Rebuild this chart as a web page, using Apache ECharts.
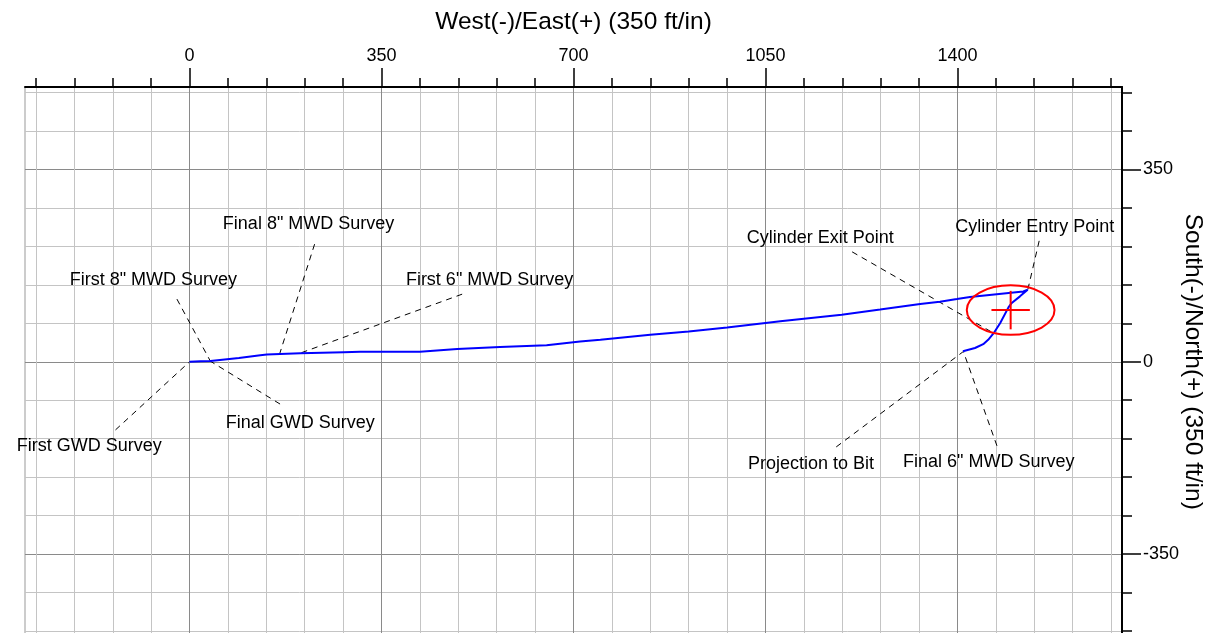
<!DOCTYPE html>
<html><head><meta charset="utf-8">
<script src="https://cdn.jsdelivr.net/npm/echarts@6/dist/echarts.min.js"></script>
<style>html,body{margin:0;padding:0;background:#fff}#c{width:1222px;height:633px}</style>
</head><body><div id="c"></div>
<script>
// Well path (East, North), ft
const pathEast = [0, 20, 38, 90, 129, 141, 165, 202, 281, 311, 366, 420, 488, 566, 651, 712, 749, 840, 910, 980, 1050, 1077, 1189, 1259, 1332, 1368, 1399, 1423, 1520, 1528, 1514, 1499, 1493, 1478, 1466, 1456, 1447, 1432, 1410];
const pathNorth = [0, 0.8, 1.5, 7, 12, 13, 14, 15.5, 17.5, 18, 18, 18, 23, 27, 30, 37, 40, 49, 55, 62.5, 70.5, 73.5, 85.7, 95, 105, 109, 114, 118, 128, 131, 119, 107, 99, 70.5, 52, 40, 32, 25, 19];

// Axis ticks
const xMinorTicks = [-280, -210, -140, -70, 0, 70, 140, 210, 280, 350, 420, 490, 560, 630, 700, 770, 840, 910, 980, 1050, 1120, 1190, 1260, 1330, 1400, 1470, 1540, 1610, 1680];
const xMajorTicks = [0, 350, 700, 1050, 1400];
const yMinorTicks = [-490, -420, -350, -280, -210, -140, -70, 0, 70, 140, 210, 280, 350, 420, 490];
const yMajorTicks = [-350, 0, 350];

// Annotations: label, label position, leader start, leader end (data units)
const annLabels = ['First GWD Survey', 'First 8" MWD Survey', 'Final GWD Survey', 'Final 8" MWD Survey', 'First 6" MWD Survey', 'Cylinder Exit Point', 'Cylinder Entry Point', 'Projection to Bit', 'Final 6" MWD Survey'];
const annTextPos = [[-183, -153], [-66, 149], [202, -112], [217, 251], [547, 149], [1150, 225], [1541, 246], [1133, -186], [1457, -182]];
const annLeadFrom = [[-135, -124], [-23, 114], [165, -77], [228, 214], [497, 123], [1208, 200], [1549, 220], [1179, -155], [1472, -153]];
const annLeadTo = [[0, 0], [38, 1], [38, 1], [164, 13.5], [200, 15], [1466, 52], [1528, 130], [1410, 18], [1411, 18]];

// Target cylinder: center, radii; cross half-size
const target = [[1497, 94, 80, 45]];
const crossHalf = 35;

const FONT = 'Liberation Sans, Arial, sans-serif';
const chart = echarts.init(document.getElementById('c'), null, {renderer: 'canvas'});

const pathData = pathEast.map((e, i) => [e, pathNorth[i]]);
const leadData = annLeadFrom.map((p, i) => [p[0], p[1], annLeadTo[i][0], annLeadTo[i][1]]);
const plain = v => String(v);

chart.setOption({
  animation: false,
  backgroundColor: '#fff',
  grid: {left: 25, top: 87, width: 1097, height: 549.5, outerBoundsMode: 'none', containLabel: false,
         show: true, borderColor: '#999', borderWidth: 1, backgroundColor: 'transparent'},
  xAxis: [
    {type: 'value', position: 'top', min: -300, max: 1700, offset: 0,
     axisLine: {show: true, onZero: false, lineStyle: {color: '#000', width: 2}},
     axisTick: {show: true, customValues: xMinorTicks, length: 9, lineStyle: {color: '#000', width: 1.5}},
     axisLabel: {show: false},
     splitLine: {show: true, lineStyle: {color: '#c4c4c4', width: 1}}},
    {type: 'value', position: 'top', min: -300, max: 1700, offset: 0,
     name: 'West(-)/East(+) (350 ft/in)', nameLocation: 'middle', nameGap: 52,
     nameTextStyle: {fontSize: 24.5, fontFamily: FONT, color: '#000'},
     axisLine: {show: false, onZero: false},
     axisTick: {show: true, customValues: xMajorTicks, length: 19, lineStyle: {color: '#000', width: 1.5}},
     axisLabel: {show: true, customValues: xMajorTicks, formatter: plain, margin: 22, fontSize: 18, fontFamily: FONT, color: '#000'},
     splitLine: {show: true, lineStyle: {color: '#8a8a8a', width: 1}}}
  ],
  yAxis: [
    {type: 'value', position: 'right', min: -500, max: 500, offset: 0,
     axisLine: {show: true, onZero: false, lineStyle: {color: '#000', width: 2}},
     axisTick: {show: true, customValues: yMinorTicks, length: 10, lineStyle: {color: '#000', width: 1.5}},
     axisLabel: {show: false},
     splitLine: {show: true, lineStyle: {color: '#c4c4c4', width: 1}}},
    {type: 'value', position: 'right', min: -500, max: 500, offset: 0,
     name: 'South(-)/North(+) (350 ft/in)', nameLocation: 'middle', nameGap: 58, nameRotate: -90, nameMoveOverlap: false,
     nameTextStyle: {fontSize: 24.5, fontFamily: FONT, color: '#000'},
     axisLine: {show: false, onZero: false},
     axisTick: {show: true, customValues: yMajorTicks, length: 19, lineStyle: {color: '#000', width: 1.5}},
     axisLabel: {show: true, customValues: yMajorTicks, formatter: plain, margin: 21, fontSize: 18, fontFamily: FONT, color: '#000'},
     splitLine: {show: true, lineStyle: {color: '#8a8a8a', width: 1}}}
  ],
  series: [
    {type: 'custom', name: 'leaders', xAxisIndex: 0, yAxisIndex: 0, z: 2, clip: false,
     data: leadData,
     renderItem: function (params, api) {
       const a = api.coord([api.value(0), api.value(1)]);
       const b = api.coord([api.value(2), api.value(3)]);
       return {type: 'line', shape: {x1: a[0], y1: a[1], x2: b[0], y2: b[1]},
               style: {stroke: '#000', lineWidth: 1, lineDash: [6, 5], fill: null}};
     }},
    {type: 'line', name: 'path', xAxisIndex: 0, yAxisIndex: 0, z: 3, data: pathData,
     showSymbol: false, symbol: 'none', lineStyle: {color: '#0000ff', width: 2}, itemStyle: {color: '#0000ff'}},
    {type: 'custom', name: 'target', xAxisIndex: 0, yAxisIndex: 0, z: 4,
     data: target,
     renderItem: function (params, api) {
       const c = api.coord([api.value(0), api.value(1)]);
       const s = api.size([api.value(2), api.value(3)]);
       const h = api.size([crossHalf, crossHalf]);
       return {type: 'group', children: [
         {type: 'ellipse', shape: {cx: c[0], cy: c[1], rx: s[0], ry: s[1]}, style: {fill: null, stroke: '#ff0000', lineWidth: 2}},
         {type: 'line', shape: {x1: c[0] - h[0], y1: c[1], x2: c[0] + h[0], y2: c[1]}, style: {stroke: '#ff0000', lineWidth: 2}},
         {type: 'line', shape: {x1: c[0], y1: c[1] - h[1], x2: c[0], y2: c[1] + h[1]}, style: {stroke: '#ff0000', lineWidth: 2}}
       ]};
     }},
    {type: 'custom', name: 'labels', xAxisIndex: 0, yAxisIndex: 0, z: 5, clip: false,
     data: annTextPos,
     renderItem: function (params, api) {
       const p = api.coord([api.value(0), api.value(1)]);
       return {type: 'text', x: p[0], y: p[1],
               style: {text: annLabels[params.dataIndex], fill: '#000', fontSize: 18, fontFamily: FONT, align: 'center', verticalAlign: 'middle'}};
     }}
  ]
});
</script>
</body></html>
